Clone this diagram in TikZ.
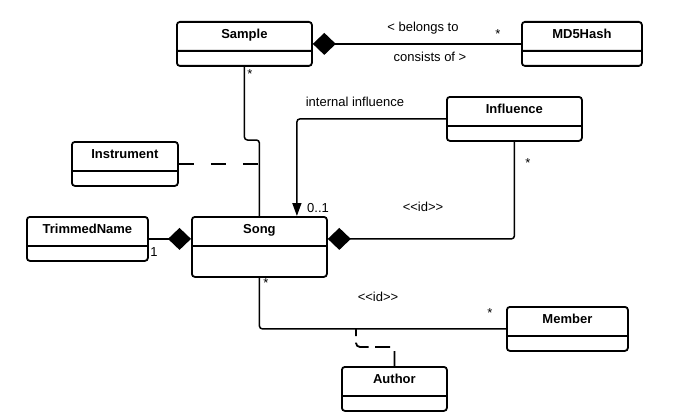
\documentclass[tikz,border=0pt]{standalone}
\usepackage{fontspec}
\setmainfont{Liberation Sans}
\usetikzlibrary{shapes.multipart, arrows.meta}
\newcommand{\clsname}[1]{\raisebox{0pt}[15.6pt][11.6pt]{#1}}
\tikzstyle{classbox} = [rectangle split, rectangle split parts=2,
rounded corners=3pt,
inner xsep=4pt, inner ysep=0pt,
rectangle split empty part height=13.2pt,
rectangle split empty part depth=0pt,
anchor=north west,
line width=1.8pt,
draw=black,
font=\fontsize{13}{15}\selectfont\bfseries]
\tikzstyle{lbl} = [anchor=base, inner sep=0pt, font=\fontsize{13}{15}\selectfont]
\tikzstyle{assoc} = [line width=1.5pt, rounded corners=3pt]
\tikzstyle{comp} = [assoc, {Diamond[length=23pt,width=22pt]}-]
\tikzstyle{arrow} = [assoc, -{Triangle[length=13pt,width=9pt]}]
\tikzstyle{dashline} = [line width=1.8pt, rounded corners=4pt]

\begin{document}
\begin{tikzpicture}[x=1pt, y=-1pt]
        \useasboundingbox (0,0) rectangle (688,420);
        \node (sample) [classbox, minimum width=135pt] at (176,21) {\clsname{Sample}\nodepart{second}};
        \node (md5) [classbox, minimum width=120pt] at (521,21) {\clsname{MD5Hash}\nodepart{second}};
        \node (inf) [classbox, minimum width=135pt] at (446,96) {\clsname{Influence}\nodepart{second}};
        \node (inst) [classbox, minimum width=106pt] at (71,141) {\clsname{Instrument}\nodepart{second}};
        \node (trim) [classbox, minimum width=121pt] at (26,216) {\clsname{TrimmedName}\nodepart{second}};
        \node (song) [classbox, minimum width=135pt, rectangle split empty part height=29.2pt] at (191,216) {\clsname{Song}\nodepart{second}};
        \node (member) [classbox, minimum width=121pt] at (506,306) {\clsname{Member}\nodepart{second}};
        \node (author) [classbox, minimum width=105pt] at (341,366) {\clsname{Author}\nodepart{second}};
        \coordinate (idlink) at (356,328.5);
        \draw [comp] (sample.east) -- (md5.west);
        \draw [assoc] (sample.south) |- ([yshift=76pt]song.north) -- (song.north);
        \draw [arrow] (inf.west) -| ([xshift=37.5pt]song.north);
        \draw [comp] (song.east |- trim.east) -| (inf.south);
        \draw [comp] (song.west |- trim.east) -- (trim.east);
        \draw [dashline, dash pattern=on 15pt off 17pt] (inst.east) -- (inst.east -| song.north);
        \draw [assoc] (song.south) |- (member.west);
        \draw [dashline, dash pattern=on 15pt off 6.5pt] (author.north) -- ++(0,-19) -| (idlink);
        \node (lbelong) [lbl] at (423,32) {< belongs to};
        \node (lconsist) [lbl] at (430,61.5) {consists of >};
        \node (lmd5) [lbl] at (498,38.5) {*};
        \node (lsample) [lbl] at (250,78) {*};
        \node (linternal) [lbl] at (355,106.5) {internal influence};
        \node (lzero) [lbl] at (318,212) {0..1};
        \node (lidup) [lbl] at (423,211.5) {<\kern0pt<id>\kern0pt>};
        \node (linf) [lbl] at (528,167.5) {*};
        \node (lone) [lbl] at (154,256.7) {1};
        \node (lsong) [lbl] at (266,287.5) {*};
        \node (liddown) [lbl] at (378,301.7) {<\kern0pt<id>\kern0pt>};
        \node (lmember) [lbl] at (490,317.5) {*};
    \end{tikzpicture}
\end{document}
